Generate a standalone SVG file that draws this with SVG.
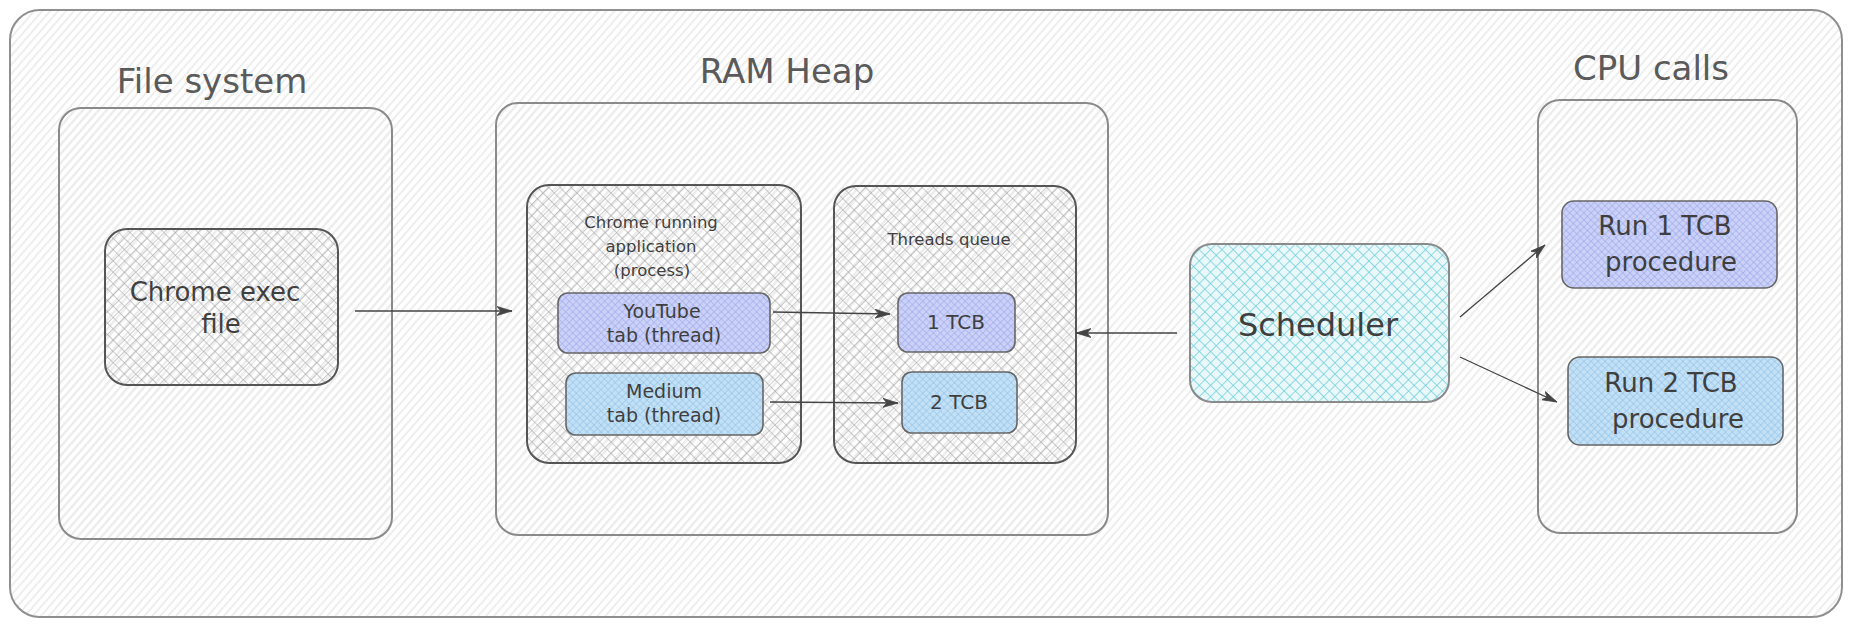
<svg xmlns="http://www.w3.org/2000/svg" width="1852" height="626" viewBox="0 0 1852 626">
  <defs>
    <pattern id="hatchL" width="6" height="10" patternUnits="userSpaceOnUse" patternTransform="rotate(41)">
      <line x1="3" y1="0" x2="3" y2="10" stroke="#dcdcdc" stroke-width="1"/>
    </pattern>
    <pattern id="hatchL2" width="6" height="10" patternUnits="userSpaceOnUse" patternTransform="rotate(41) translate(1.5 0)">
      <line x1="0" y1="0" x2="0" y2="10" stroke="#e2e2e2" stroke-width="1"/>
    </pattern>
    <pattern id="crossG" width="8" height="8" patternUnits="userSpaceOnUse" patternTransform="rotate(45)">
      <line x1="0" y1="0" x2="0" y2="8" stroke="#a0a0a0" stroke-width="1.1"/>
      <line x1="0" y1="0" x2="8" y2="0" stroke="#a0a0a0" stroke-width="1.1"/>
    </pattern>
    <pattern id="crossI" width="5" height="5" patternUnits="userSpaceOnUse" patternTransform="rotate(45)">
      <rect width="5" height="5" fill="#cbd1f7"/>
      <line x1="0" y1="0" x2="0" y2="5" stroke="#96a2ea" stroke-width="1"/>
      <line x1="0" y1="0" x2="5" y2="0" stroke="#96a2ea" stroke-width="1"/>
    </pattern>
    <pattern id="crossB" width="5" height="5" patternUnits="userSpaceOnUse" patternTransform="rotate(45)">
      <rect width="5" height="5" fill="#c4e0f5"/>
      <line x1="0" y1="0" x2="0" y2="5" stroke="#86bee8" stroke-width="1"/>
      <line x1="0" y1="0" x2="5" y2="0" stroke="#86bee8" stroke-width="1"/>
    </pattern>
    <pattern id="crossC" width="8" height="8" patternUnits="userSpaceOnUse" patternTransform="rotate(45)">
      <rect width="8" height="8" fill="#eaf8fa"/>
      <line x1="0" y1="0" x2="0" y2="8" stroke="#6ccfdb" stroke-width="1.5"/>
      <line x1="0" y1="0" x2="8" y2="0" stroke="#6ccfdb" stroke-width="1.5"/>
    </pattern>
    <marker id="ah" viewBox="0 0 16 10" markerWidth="16" markerHeight="10" refX="15" refY="5" orient="auto" markerUnits="userSpaceOnUse">
      <path d="M0,0.5 L15,5 L0,9.5 L4,5 Z" fill="#444" stroke="#444" stroke-width="0.8" stroke-linejoin="round"/>
    </marker>
    <style>
      .frame{fill:url(#hatchL);stroke:#8f8f8f;stroke-width:2}
      .lt{fill:url(#hatchL2);stroke:#8a8a8a;stroke-width:2}
      .dk{fill:url(#crossG);stroke:#555;stroke-width:2}
      .ind{fill:url(#crossI);stroke:#666;stroke-width:1.6}
      .blu{fill:url(#crossB);stroke:#666;stroke-width:1.6}
      .cyn{fill:url(#crossC);stroke:#8a8a8a;stroke-width:2}
      text{font-family:"DejaVu Sans","Liberation Sans",sans-serif;text-anchor:middle}
      .title{font-size:34px;fill:#5a5a5a}
      .t{fill:#3f3f3f}
      .conn{fill:none;stroke:#444;stroke-width:1.3;marker-end:url(#ah)}
    </style>
  </defs>

  <g id="frame">
    <rect class="frame" x="10" y="10" width="1832" height="607" rx="30"/>
  </g>

  <g id="file-system">
    <text class="title" x="212" y="93">File system</text>
    <rect class="lt" x="59" y="108" width="333" height="431" rx="22"/>
  </g>

  <g id="chrome-exec">
    <rect class="dk" x="105" y="229" width="233" height="156" rx="22"/>
    <text class="t" x="215" y="301" font-size="26">Chrome exec</text>
    <text class="t" x="221" y="333" font-size="26">file</text>
  </g>

  <g id="ram-heap">
    <text class="title" x="787" y="83">RAM Heap</text>
    <rect class="lt" x="496" y="103" width="612" height="432" rx="22"/>
  </g>

  <g id="chrome-process">
    <rect class="dk" x="527" y="185" width="274" height="278" rx="22"/>
    <text class="t" x="651" y="228" font-size="16.5">Chrome running</text>
    <text class="t" x="651" y="252" font-size="16.5">application</text>
    <text class="t" x="652" y="276" font-size="16.5">(process)</text>
  </g>

  <g id="youtube">
    <rect class="ind" x="558" y="293" width="212" height="60" rx="10"/>
    <text class="t" x="662" y="318" font-size="19">YouTube</text>
    <text class="t" x="664" y="342" font-size="19">tab (thread)</text>
  </g>

  <g id="medium">
    <rect class="blu" x="566" y="373" width="197" height="62" rx="10"/>
    <text class="t" x="664" y="398" font-size="19">Medium</text>
    <text class="t" x="664" y="422" font-size="19">tab (thread)</text>
  </g>

  <g id="threads-queue">
    <rect class="dk" x="834" y="186" width="242" height="277" rx="22"/>
    <text class="t" x="949" y="245" font-size="16.5">Threads queue</text>
  </g>

  <g id="tcb1">
    <rect class="ind" x="898" y="293" width="117" height="59" rx="10"/>
    <text class="t" x="956" y="329" font-size="20">1 TCB</text>
  </g>

  <g id="tcb2">
    <rect class="blu" x="902" y="372" width="115" height="61" rx="10"/>
    <text class="t" x="959" y="409" font-size="20">2 TCB</text>
  </g>

  <g id="scheduler">
    <rect class="cyn" x="1190" y="244" width="259" height="158" rx="22"/>
    <text class="t" x="1318" y="336" font-size="32">Scheduler</text>
  </g>

  <g id="cpu-calls">
    <text class="title" x="1651" y="80">CPU calls</text>
    <rect class="lt" x="1538" y="100" width="259" height="433" rx="22"/>
  </g>

  <g id="run1">
    <rect class="ind" x="1562" y="201" width="215" height="87" rx="12"/>
    <text class="t" x="1665" y="235" font-size="26">Run 1 TCB</text>
    <text class="t" x="1671" y="271" font-size="26">procedure</text>
  </g>

  <g id="run2">
    <rect class="blu" x="1568" y="357" width="215" height="88" rx="12"/>
    <text class="t" x="1671" y="392" font-size="26">Run 2 TCB</text>
    <text class="t" x="1678" y="428" font-size="26">procedure</text>
  </g>

  <g id="connectors">
    <line class="conn" x1="355" y1="311" x2="512" y2="311"/>
    <line class="conn" x1="773" y1="312" x2="890" y2="314"/>
    <line class="conn" x1="770" y1="402" x2="898" y2="403"/>
    <line class="conn" x1="1177" y1="333" x2="1076" y2="333"/>
    <line class="conn" x1="1460" y1="317" x2="1545" y2="245"/>
    <line class="conn" x1="1460" y1="357" x2="1557" y2="402"/>
  </g>
</svg>
